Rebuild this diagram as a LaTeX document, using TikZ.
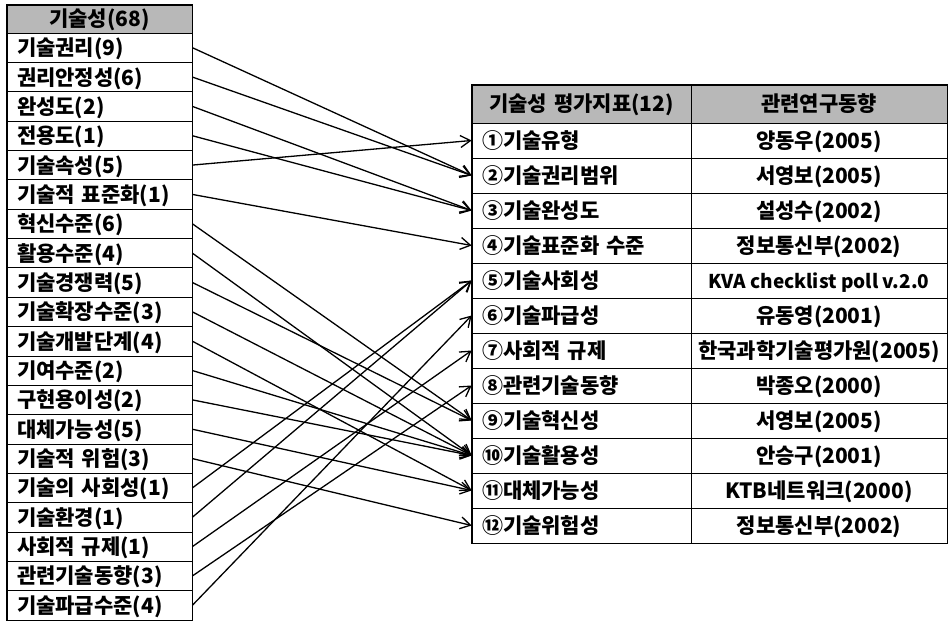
\documentclass[tikz,border=0pt]{standalone}
\usepackage{fontspec}
\setmainfont{Noto Sans CJK KR}
\usetikzlibrary{arrows.meta}

\begin{document}
\begin{tikzpicture}[x=1pt, y=-1pt,
  >={Straight Barb[length=10pt,width=12pt]},
  every node/.style={font=\fontsize{21}{24}\selectfont\bfseries, inner ysep=0pt, text height=19pt, text depth=3pt},
  lhead/.style={draw, line width=0.7pt, fill=black!28, minimum height=28pt, text width=165pt, inner xsep=10pt, align=center},
  lrow/.style={draw, line width=0.7pt, minimum height=29.35pt, text width=165pt, inner xsep=10pt, align=left},
  phead/.style={draw, line width=0.7pt, fill=black!28, minimum height=38pt, text width=199pt, inner xsep=10pt, align=center},
  shead/.style={draw, line width=0.7pt, fill=black!28, minimum height=38pt, minimum width=256pt, inner xsep=0pt},
  prow/.style={draw, line width=0.7pt, minimum height=35pt, text width=199pt, inner xsep=10pt, align=left},
  srow/.style={draw, line width=0.7pt, minimum height=35pt, minimum width=256pt, inner xsep=0pt},
  link/.style={->, line width=1.3pt}]
\useasboundingbox (0,0) rectangle (951,623);

% 기술성 항목
\node[lhead] (lh) at (99.5,19) {기술성(68)};
\node[lrow] (l1) at (99.5,47.675) {기술권리(9)};
\node[lrow] (l2) at (99.5,77.025) {권리안정성(6)};
\node[lrow] (l3) at (99.5,106.375) {완성도(2)};
\node[lrow] (l4) at (99.5,135.725) {전용도(1)};
\node[lrow] (l5) at (99.5,165.075) {기술속성(5)};
\node[lrow] (l6) at (99.5,194.425) {기술적 표준화(1)};
\node[lrow] (l7) at (99.5,223.775) {혁신수준(6)};
\node[lrow] (l8) at (99.5,253.125) {활용수준(4)};
\node[lrow] (l9) at (99.5,282.475) {기술경쟁력(5)};
\node[lrow] (l10) at (99.5,311.825) {기술확장수준(3)};
\node[lrow] (l11) at (99.5,341.175) {기술개발단계(4)};
\node[lrow] (l12) at (99.5,370.525) {기여수준(2)};
\node[lrow] (l13) at (99.5,399.875) {구현용이성(2)};
\node[lrow] (l14) at (99.5,429.225) {대체가능성(5)};
\node[lrow] (l15) at (99.5,458.575) {기술적 위험(3)};
\node[lrow] (l16) at (99.5,487.925) {기술의 사회성(1)};
\node[lrow] (l17) at (99.5,517.275) {기술환경(1)};
\node[lrow] (l18) at (99.5,546.625) {사회적 규제(1)};
\node[lrow] (l19) at (99.5,575.975) {관련기술동향(3)};
\node[lrow] (l20) at (99.5,605.325) {기술파급수준(4)};
\draw[line width=1.5pt] (lh.north west) rectangle (l20.south east);

% 평가지표와 연구동향
\node[phead] (ph) at (581.5,104) {기술성 평가지표(12)};
\node[shead] (sh) at (819,104) {관련연구동향};
\node[prow] (p1) at (581.5,140.5) {①기술유형};
\node[srow] (s1) at (819,140.5) {양동우(2005)};
\node[prow] (p2) at (581.5,175.5) {②기술권리범위};
\node[srow] (s2) at (819,175.5) {서영보(2005)};
\node[prow] (p3) at (581.5,210.5) {③기술완성도};
\node[srow] (s3) at (819,210.5) {설성수(2002)};
\node[prow] (p4) at (581.5,245.5) {④기술표준화 수준};
\node[srow] (s4) at (819,245.5) {정보통신부(2002)};
\node[prow] (p5) at (581.5,280.5) {⑤기술사회성};
\node[srow, font=\fontsize{19}{22}\selectfont\bfseries] (s5) at (819,280.5) {KVA checklist poll v.2.0};
\node[prow] (p6) at (581.5,315.5) {⑥기술파급성};
\node[srow] (s6) at (819,315.5) {유동영(2001)};
\node[prow] (p7) at (581.5,350.5) {⑦사회적 규제};
\node[srow] (s7) at (819,350.5) {한국과학기술평가원(2005)};
\node[prow] (p8) at (581.5,385.5) {⑧관련기술동향};
\node[srow] (s8) at (819,385.5) {박종오(2000)};
\node[prow] (p9) at (581.5,420.5) {⑨기술혁신성};
\node[srow] (s9) at (819,420.5) {서영보(2005)};
\node[prow] (p10) at (581.5,455.5) {⑩기술활용성};
\node[srow] (s10) at (819,455.5) {안승구(2001)};
\node[prow] (p11) at (581.5,490.5) {⑪대체가능성};
\node[srow] (s11) at (819,490.5) {KTB네트워크(2000)};
\node[prow] (p12) at (581.5,525.5) {⑫기술위험성};
\node[srow] (s12) at (819,525.5) {정보통신부(2002)};
\draw[line width=1.5pt] (ph.north west) rectangle (s12.south east);

% 연결
\draw[link] (l1.east) -- (p2.west);
\draw[link] (l2.east) -- (p2.west);
\draw[link] (l3.east) -- (p3.west);
\draw[link] (l4.east) -- (p3.west);
\draw[link] (l5.east) -- (p1.west);
\draw[link] (l6.east) -- (p4.west);
\draw[link] (l7.east) -- (p9.west);
\draw[link] (l8.east) -- (p10.west);
\draw[link] (l9.east) -- (p9.west);
\draw[link] (l10.east) -- (p10.west);
\draw[link] (l11.east) -- (p11.west);
\draw[link] (l12.east) -- (p10.west);
\draw[link] (l13.east) -- (p10.west);
\draw[link] (l14.east) -- (p11.west);
\draw[link] (l15.east) -- (p12.west);
\draw[link] (l16.east) -- (p5.west);
\draw[link] (l17.east) -- (p5.west);
\draw[link] (l18.east) -- (p7.west);
\draw[link] (l19.east) -- (p8.west);
\draw[link] (l20.east) -- (p6.west);
\end{tikzpicture}
\end{document}
